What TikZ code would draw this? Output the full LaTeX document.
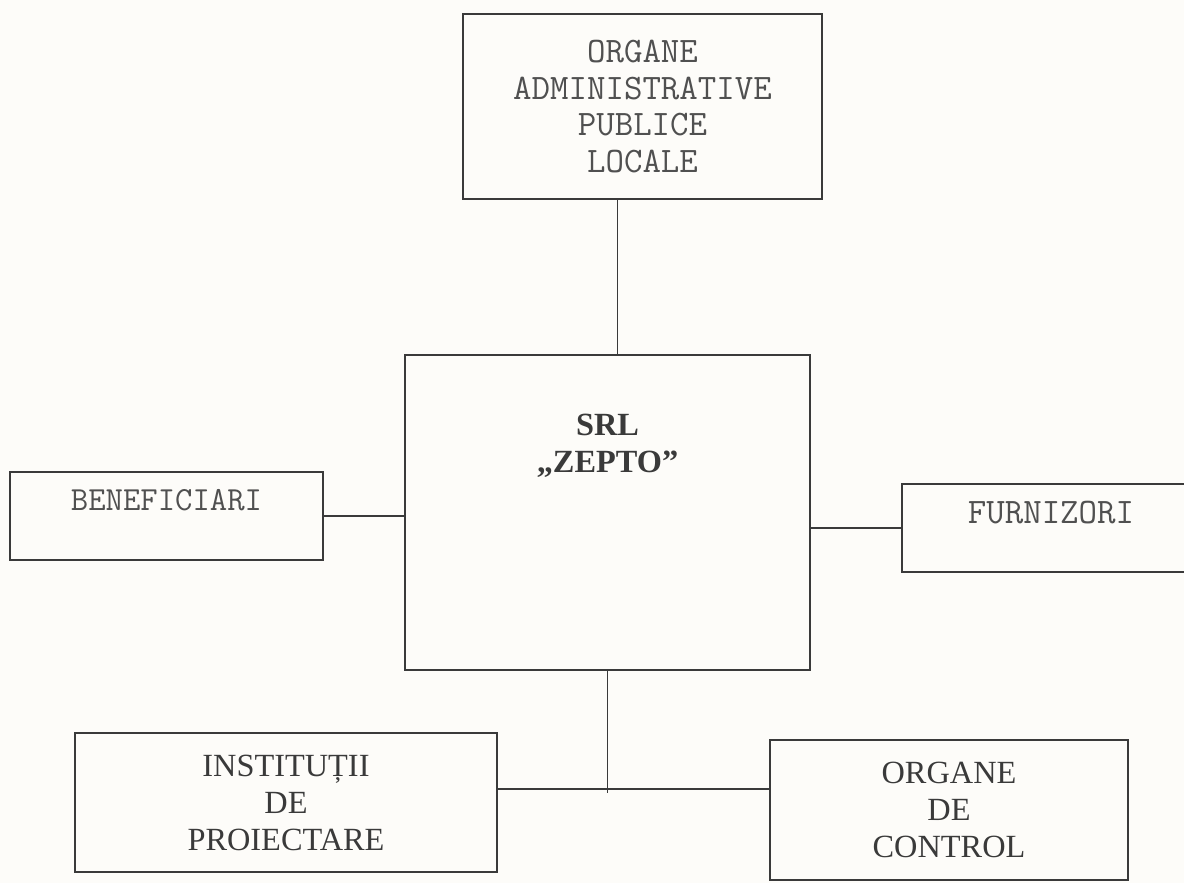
\documentclass[tikz,border=0pt]{standalone}
\usepackage{fontspec}
\setmainfont{Liberation Serif}
\definecolor{ink}{HTML}{3A3A3A}
\definecolor{pencil}{HTML}{505050}
\definecolor{paper}{HTML}{FDFCF9}

\begin{document}
\begin{tikzpicture}[
    x=0.025cm, y=-0.025cm,
    box/.style={
      draw=ink,
      line width=1.1pt,
      inner sep=0pt,
      align=center
    },
    monobox/.style={box, text=pencil, font=\fontsize{25.5}{26}\selectfont\ttfamily},
    serifbox/.style={box, text=ink, font=\fontsize{23}{26.3}\selectfont},
    link/.style={draw=ink, line width=1.1pt}
  ]
    \useasboundingbox[fill=paper] (0,0) rectangle (1184,883);

    \node[monobox, minimum width=8.975cm, minimum height=4.625cm] (admin) at (642.5,106.5)
      {ORGANE\\ADMINISTRATIVE\\PUBLICE\\LOCALE};
    \node[box, minimum width=10.125cm, minimum height=7.875cm,
      label={[anchor=north, yshift=-1.5cm, inner sep=0pt, align=center, text=ink,
        font=\fontsize{23}{26.3}\selectfont\bfseries]north:{SRL\\„ZEPTO”}}] (zepto) at (607.5,512.5) {};
    \node[monobox, font=\fontsize{24}{26}\selectfont\ttfamily, minimum width=7.825cm,
      text height=0.95cm, text depth=1.25cm] (benef) at (166.5,516) {BENEFICIARI};
    \node[monobox, minimum width=7.45cm, text height=0.975cm, text depth=1.225cm] (furniz) at (1051,528) {FURNIZORI};
    \node[serifbox, minimum width=10.55cm, minimum height=3.475cm] (instit) at (286,802.5)
      {INSTITUȚII\\DE\\PROIECTARE};
    \node[serifbox, minimum width=8.95cm, minimum height=3.5cm] (control) at (949,810)
      {ORGANE\\DE\\CONTROL};

    \coordinate (up) at ([xshift=-0.625cm]admin.south);
    \coordinate (jn) at (607.5,789);

    \draw[link] (up) -- (up |- zepto.north);
    \draw[link] (benef.east) -- (benef.east -| zepto.west);
    \draw[link] (furniz.west -| zepto.east) -- (furniz.west);
    \draw[link] (zepto.south) -- ([yshift=-0.1cm]jn);
    \draw[link] (instit.east |- jn) -- (control.west |- jn);
  \end{tikzpicture}
\end{document}
